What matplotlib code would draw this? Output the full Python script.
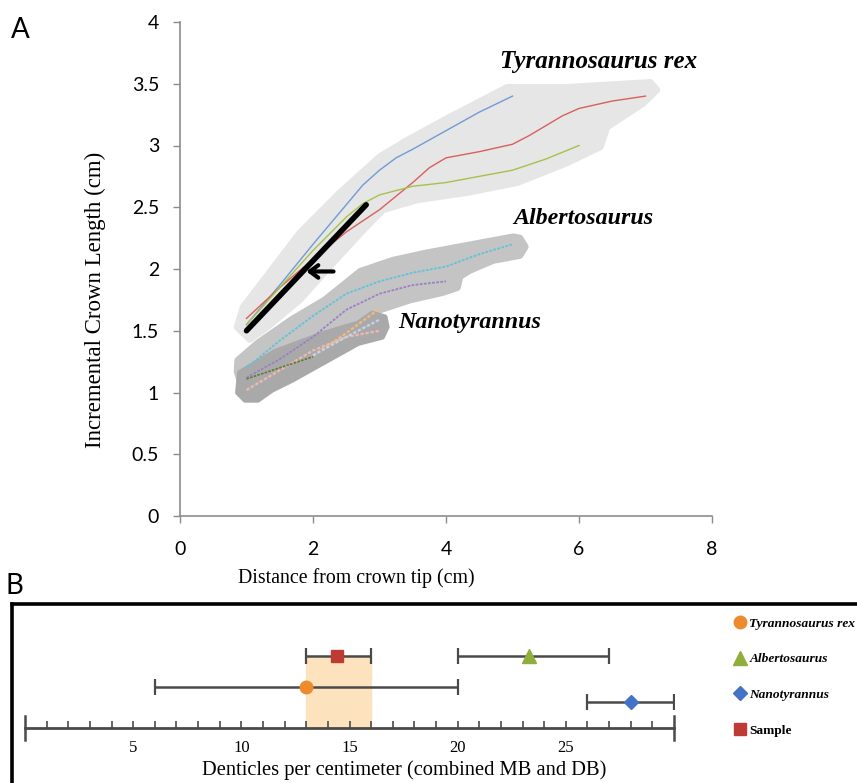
import matplotlib
matplotlib.use("Agg")
import matplotlib.pyplot as plt

# ---------------- Panel A data ----------------
trex_blue_x = [1.0, 1.5, 2.0, 2.5, 2.75, 3.0, 3.25, 3.5, 4.0, 4.5, 5.0]
trex_blue_y = [1.55, 1.87, 2.2, 2.52, 2.68, 2.8, 2.9, 2.97, 3.12, 3.27, 3.4]
trex_red_x = [1.0, 1.5, 2.0, 2.5, 3.0, 3.5, 3.75, 4.0, 4.5, 5.0, 5.25, 5.5, 5.75, 6.0, 6.5, 7.0]
trex_red_y = [1.6, 1.85, 2.08, 2.3, 2.48, 2.7, 2.82, 2.9, 2.95, 3.01, 3.08, 3.16, 3.24, 3.3, 3.36, 3.4]
trex_green_x = [1.0, 1.5, 2.0, 2.5, 2.75, 3.0, 3.5, 4.0, 4.5, 5.0, 5.5, 6.0]
trex_green_y = [1.55, 1.85, 2.15, 2.42, 2.53, 2.6, 2.67, 2.7, 2.75, 2.8, 2.89, 3.0]

alb_cyan_x = [1.0, 1.5, 2.0, 2.5, 3.0, 3.5, 4.0, 4.5, 5.0]
alb_cyan_y = [1.2, 1.42, 1.62, 1.8, 1.9, 1.97, 2.02, 2.12, 2.2]
alb_purple_x = [1.0, 1.5, 2.0, 2.5, 3.0, 3.5, 4.0]
alb_purple_y = [1.12, 1.27, 1.45, 1.67, 1.8, 1.87, 1.9]

nano_pink_x = [1.0, 1.5, 2.0, 2.5, 3.0]
nano_pink_y = [1.02, 1.18, 1.34, 1.45, 1.5]
nano_olive_x = [1.0, 1.5, 2.0]
nano_olive_y = [1.11, 1.2, 1.29]
nano_orange_x = [2.0, 2.5, 3.0]
nano_orange_y = [1.3, 1.48, 1.68]
nano_lblue_x = [2.0, 2.5, 3.0]
nano_lblue_y = [1.3, 1.45, 1.59]

sample_line_x = [1.0, 2.8]
sample_line_y = [1.5, 2.52]

# envelopes (outline points, data units)
trex_env_x = [0.86, 0.95, 1.8, 2.41, 3.01, 3.41, 4.06, 4.92, 5.31, 5.82, 7.07, 7.17,
              6.96, 6.42, 6.32, 5.82, 5.07, 4.32, 3.56, 3.05, 2.71, 2.3, 1.8, 1.31, 1.05]
trex_env_y = [1.53, 1.69, 2.29, 2.62, 2.91, 3.04, 3.23, 3.47, 3.47, 3.47, 3.51, 3.45,
              3.34, 3.15, 2.99, 2.86, 2.7, 2.62, 2.56, 2.48, 2.29, 2.05, 1.75, 1.53, 1.43]
alb_env_x = [0.86, 0.87, 1.17, 1.68, 2.18, 2.71, 3.2, 3.71, 4.21, 4.71, 5.01, 5.11, 5.19,
             5.11, 4.71, 4.36, 4.21, 4.17, 3.95, 3.46, 3.01, 2.5, 1.5, 0.9]
alb_env_y = [1.17, 1.26, 1.4, 1.59, 1.75, 1.98, 2.07, 2.13, 2.18, 2.23, 2.26, 2.25, 2.18,
             2.11, 2.07, 1.99, 1.94, 1.85, 1.81, 1.75, 1.67, 1.5, 1.25, 1.1]
nano_env_x = [0.87, 0.9, 1.43, 2.18, 2.68, 2.89, 3.08, 3.11, 3.04, 2.68, 2.18, 1.68,
              1.38, 1.17, 0.98]
nano_env_y = [1.0, 1.16, 1.33, 1.48, 1.56, 1.64, 1.61, 1.53, 1.45, 1.4, 1.25, 1.1,
              1.02, 0.94, 0.94]

# ---------------- Panel B data ----------------
taxa = ["Tyrannosaurus rex", "Albertosaurus", "Nanotyrannus", "Sample"]
dent_mean = [13.0, 23.3, 28.0, 14.4]
dent_low = [6.0, 20.0, 26.0, 13.0]
dent_high = [20.0, 27.0, 30.0, 16.0]
row_y = [1.7, 3.0, 1.1, 3.0]
markers = ["o", "^", "D", "s"]
mcolors = ["#ee8a2e", "#8fae3c", "#4472c4", "#be3a34"]
msizes = [9, 10, 7, 9]

serif = "Liberation Serif"

fig = plt.figure(figsize=(8.57, 7.83), dpi=100)

# ---------------- Panel A ----------------
axA = fig.add_axes([180/857, 1-516/783, 532/857, 494/783])
axA.set_xlim(0, 8)
axA.set_ylim(0, 4)

axA.fill(trex_env_x, trex_env_y, color="#e6e6e6", ec="#e6e6e6", lw=5, joinstyle="round", zorder=1)
axA.fill(alb_env_x, alb_env_y, color="#c4c4c4", ec="#c4c4c4", lw=5, joinstyle="round", zorder=2)
axA.fill(nano_env_x, nano_env_y, color="#a9a9a9", ec="#a9a9a9", lw=4, joinstyle="round", zorder=3)

lkw = dict(lw=1.0, zorder=5, solid_joinstyle="round")
axA.plot(trex_blue_x, trex_blue_y, color="#6f9bd6", **lkw)
axA.plot(trex_red_x, trex_red_y, color="#d8605c", **lkw)
axA.plot(trex_green_x, trex_green_y, color="#a6c24a", **lkw)

dot = (0, (1.5, 0.8))
axA.plot(alb_cyan_x, alb_cyan_y, color="#5ec3dc", lw=1.3, ls=dot, zorder=5)
axA.plot(alb_purple_x, alb_purple_y, color="#9c7fc9", lw=1.3, ls=dot, zorder=5)
axA.plot(nano_pink_x, nano_pink_y, color="#f2b8b4", lw=1.6, ls=dot, zorder=5)
axA.plot(nano_olive_x, nano_olive_y, color="#5f7a2c", lw=1.2, ls=dot, zorder=5)
axA.plot(nano_orange_x, nano_orange_y, color="#f5b978", lw=1.6, ls=dot, zorder=5)
axA.plot(nano_lblue_x, nano_lblue_y, color="#c2d3ee", lw=1.6, ls=dot, zorder=5)

axA.plot(sample_line_x, sample_line_y, color="black", lw=4, solid_capstyle="round", zorder=6)
axA.annotate("", xy=(1.86, 1.98), xytext=(2.35, 1.98),
             arrowprops=dict(arrowstyle="->,head_length=0.6,head_width=0.45",
                             color="black", lw=3), zorder=7)

lab_kw = dict(family=serif, style="italic", weight="bold", ha="center", va="center")
axA.text(6.29, 3.68, "Tyrannosaurus rex", fontsize=18, **lab_kw)
axA.text(6.06, 2.41, "Albertosaurus", fontsize=17.3, **lab_kw)
axA.text(4.36, 1.57, "Nanotyrannus", fontsize=17.3, **lab_kw)

for s in ["top", "right"]:
    axA.spines[s].set_visible(False)
for s in ["left", "bottom"]:
    axA.spines[s].set_color("#8c8c8c")
    axA.spines[s].set_linewidth(1.2)
axA.set_xticks([0, 2, 4, 6, 8])
axA.set_yticks([0, 0.5, 1, 1.5, 2, 2.5, 3, 3.5, 4])
axA.set_yticklabels(["0", "0.5", "1", "1.5", "2", "2.5", "3", "3.5", "4"])
axA.tick_params(direction="out", length=5, width=1, color="#8c8c8c",
                labelsize=14, pad=10)
axA.tick_params(axis="x", pad=13)
for lab in axA.get_xticklabels() + axA.get_yticklabels():
    lab.set_family("Lato")
axA.set_xlabel("Distance from crown tip (cm)", family=serif, fontsize=14.3)
axA.xaxis.set_label_coords((356-180)/532, -(578-516)/494)
axA.xaxis.label.set_va("center")
axA.set_ylabel("Incremental Crown Length (cm)", family=serif, fontsize=16.5)
axA.yaxis.set_label_coords(-(180-95)/532, (516-300)/494)
axA.yaxis.label.set_va("center")

fig.text(20/857, 1-30/783, "A", fontsize=20, family="Lato", ha="center", va="center")
fig.text(14/857, 1-586/783, "B", fontsize=20, family="Lato", ha="center", va="center")

# ---------------- Panel B frame ----------------
axF = fig.add_axes([12/857, -0.2, 1.2, 0.2 + 1 - 604/783])
axF.set_xticks([]); axF.set_yticks([])
axF.patch.set_alpha(0)
for s in ["left", "top"]:
    axF.spines[s].set_linewidth(2.6)
    axF.spines[s].set_color("black")

# ---------------- Panel B data axes ----------------
axB = fig.add_axes([25/857, 1-728/783, 649/857, 96/783])
axB.set_xlim(0, 30)
axB.set_ylim(0, 4)
axB.patch.set_alpha(0)

axB.fill_between([dent_low[3], dent_high[3]], 0, row_y[3], color="#fde3bd", zorder=1)

for i in range(4):
    axB.errorbar(dent_mean[i], row_y[i],
                 xerr=[[dent_mean[i]-dent_low[i]], [dent_high[i]-dent_mean[i]]],
                 fmt="none", ecolor="#4a4a4a", elinewidth=1.8, capsize=6, capthick=1.6, zorder=3)
handles = []
for i in range(4):
    h, = axB.plot(dent_mean[i], row_y[i], marker=markers[i], color=mcolors[i],
                  ms=msizes[i], ls="none", zorder=4, label=taxa[i])
    handles.append(h)

for s in ["top", "right", "left"]:
    axB.spines[s].set_visible(False)
axB.spines["bottom"].set_color("#4a4a4a")
axB.spines["bottom"].set_linewidth(2)
axB.set_yticks([])
axB.set_xticks([5, 10, 15, 20, 25])
axB.set_xticks(list(range(1, 30)), minor=True)
axB.tick_params(axis="x", which="both", direction="in", length=5, width=1.2,
                color="#4a4a4a", labelsize=12, pad=9)
for lab in axB.get_xticklabels():
    lab.set_family(serif)
for xe in axB.get_xlim():
    axB.axvline(xe, ymin=-0.13, ymax=0.13, color="#4a4a4a", lw=1.8, clip_on=False)
axB.set_xlabel("Denticles per centimeter (combined MB and DB)", family=serif,
               fontsize=14.8)
axB.xaxis.set_label_coords((404-25)/649, -(770-728)/96)
axB.xaxis.label.set_va("center")

leg = fig.legend(handles=handles, loc="upper left", bbox_to_anchor=(728/857, 1-612/783),
                 frameon=False, labelspacing=1.75, handletextpad=0.2, handlelength=1.0,
                 borderaxespad=0, prop={"family": serif, "size": 9.6, "weight": "bold",
                                        "style": "italic"})
leg.get_texts()[3].set_style("normal")

fig.savefig("out.png", dpi=100)
